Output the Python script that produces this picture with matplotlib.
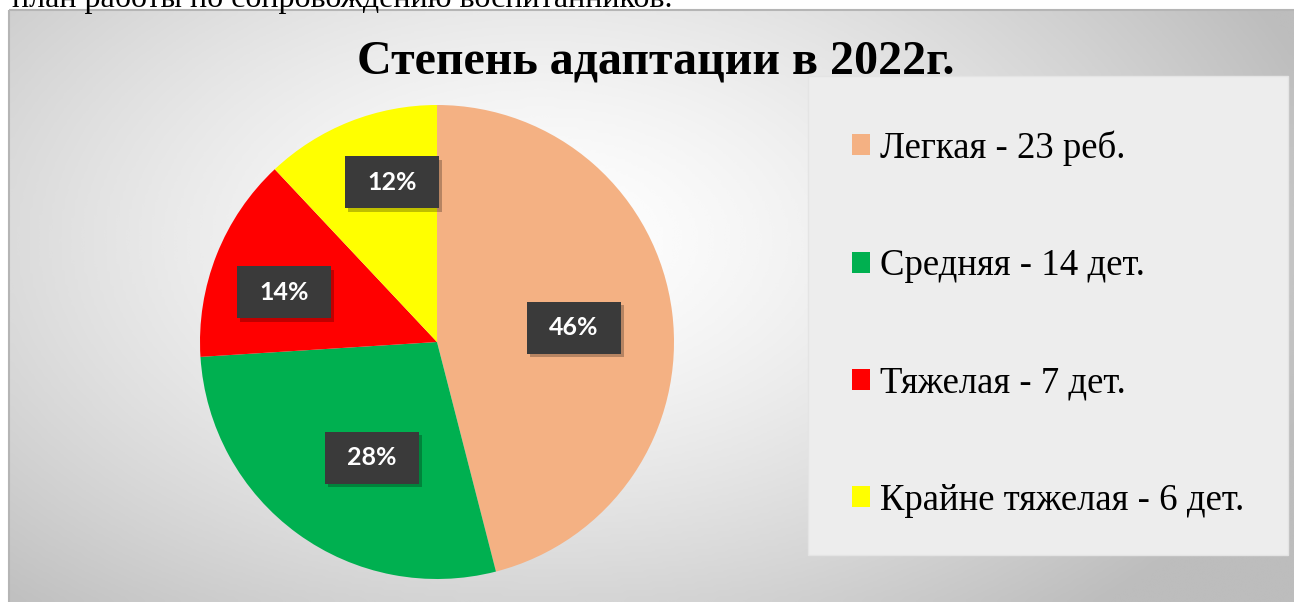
import matplotlib.pyplot as plt
import matplotlib.patches as mpatches
import numpy as np

# data
categories = ['Легкая - 23 реб.', 'Средняя - 14 дет.', 'Тяжелая - 7 дет.', 'Крайне тяжелая - 6 дет.']
counts = [23, 14, 7, 6]
colors = ['#F4B183', '#00B050', '#FF0000', '#FFFF00']
title = 'Степень адаптации в 2022г.'
top_line = 'план работы по сопровождению воспитанников.'

W, H = 1294, 602
fig = plt.figure(figsize=(W / 100, H / 100), dpi=100)
fig.patch.set_facecolor('white')

# background with radial gradient
bg = fig.add_axes([0, 0, 1, 1])
bg.set_xlim(0, W)
bg.set_ylim(H, 0)
bg.axis('off')
xx, yy = np.meshgrid(np.linspace(9, W, 400), np.linspace(10, H, 200))
r = np.sqrt(((xx - 540) / 820) ** 2 + ((yy - 240) / 500) ** 2)
shade = 1 - 0.26 * np.clip(r, 0, 1) ** 1.4
bg.imshow(shade, cmap='gray', vmin=0, vmax=1, extent=[9, W, H, 10],
          aspect='auto', zorder=0, interpolation='bicubic')
bg.add_patch(mpatches.Rectangle((9, 10), W, H, fill=False,
                                edgecolor='#b5b5b5', linewidth=1.5, zorder=1))
# legend background
bg.add_patch(mpatches.Rectangle((808, 76), 480, 479, facecolor='#ededed',
                                edgecolor='#e4e4e4', linewidth=1, zorder=1))
bg.text(12, 7, top_line, fontsize=23, family='Liberation Serif',
        va='baseline', ha='left', color='black')

fig.text(656 / W, 1 - 62 / H, title, fontsize=34.6, fontweight='bold',
         family='Liberation Serif', ha='center', va='center')

# pie
cx, cy, R = 437, 342, 237
ax = fig.add_axes([(cx - R) / W, (H - cy - R) / H, 2 * R / W, 2 * R / H])
wedges, texts, autotexts = ax.pie(counts, colors=colors, startangle=90,
                                  counterclock=False, autopct='%1.0f%%',
                                  pctdistance=0.6,
                                  textprops=dict(color='white', fontsize=18,
                                                 fontweight='bold', family='Lato'))
ax.set_xlim(-1, 1)
ax.set_ylim(-1, 1)

# label placement (radius, angle shift from wedge middle)
label_dist = [0.58, 0.56, 0.68, 0.70]
label_shift = [-1.3, 6.7, 3.6, -5.8]
total = sum(counts)
start = 90
bw, bh = 94 / R, 52 / R
for i, t in enumerate(autotexts):
    frac = counts[i] / total
    mid = np.deg2rad(start - frac * 180 + label_shift[i])
    start -= frac * 360
    px, py = label_dist[i] * np.cos(mid), label_dist[i] * np.sin(mid)
    t.set_position((px, py))
    t.set_zorder(5)
    ax.add_patch(mpatches.Rectangle((px - bw / 2 + 0.012, py - bh / 2 - 0.015), bw, bh,
                                    facecolor='black', alpha=0.25, zorder=3))
    ax.add_patch(mpatches.Rectangle((px - bw / 2, py - bh / 2), bw, bh,
                                    facecolor='#3a3a3a', zorder=4))

fig.legend(wedges, categories, loc='center left',
           bbox_to_anchor=(852 / W, 1 - 324 / H), frameon=False,
           prop=dict(family='Liberation Serif', size=26.5),
           handlelength=0.5, handleheight=0.5, handletextpad=0.25,
           labelspacing=2.25, borderpad=0, borderaxespad=0)

fig.savefig('out.png', dpi=100)
